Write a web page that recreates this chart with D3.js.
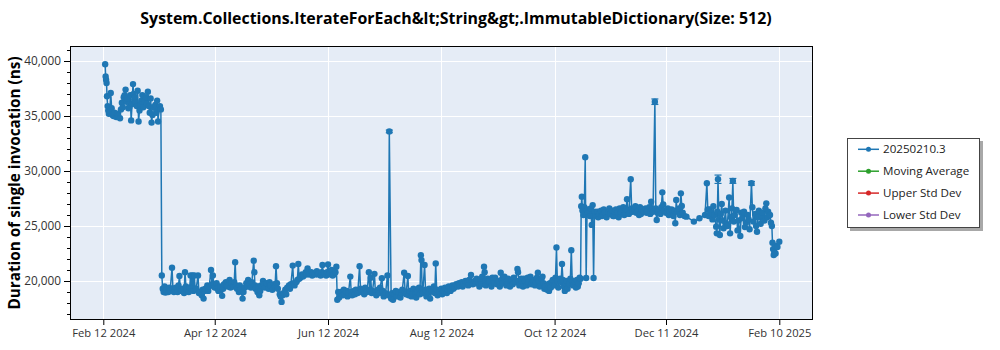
<!DOCTYPE html>
<html>
<head>
<meta charset="utf-8">
<script src="https://cdn.jsdelivr.net/npm/d3@7"></script>
<style>
  body { margin: 0; background: #fff; }
  svg { display: block; }
  text { font-family: "Open Sans", "Noto Sans", sans-serif; }
</style>
</head>
<body>
<svg id="chart" width="1000" height="350"></svg>
<script>
// ---- labels ----
const chartTitle = "System.Collections.IterateForEach&lt;String&gt;.ImmutableDictionary(Size: 512)";
const yAxisTitle = "Duration of single invocation (ns)";
const yTickValues = [20000, 25000, 30000, 35000, 40000];
const xTickDates = ["2024-02-12", "2024-04-12", "2024-06-12", "2024-08-12", "2024-10-12", "2024-12-11", "2025-02-10"];
const xTickLabels = ["Feb 12 2024", "Apr 12 2024", "Jun 12 2024", "Aug 12 2024", "Oct 12 2024", "Dec 11 2024", "Feb 10 2025"];
const legendNames = ["20250210.3", "Moving Average", "Upper Std Dev", "Lower Std Dev"];
const legendColors = ["#1f77b4", "#2ca02c", "#d62728", "#9467bd"];

// ---- durations (ns), one slot per day of the month; a list means several runs that day ----
const feb2024 = [null, null, null, null, null, null, null, null, null, null, null, null,
  [39700, 38600, 38300, 38000], [36800, 35900, 35500], [35200, 35400], [37100, 35700], [35100, 35000],
  [35300], [34900, 35200], [35000], [34800, 35600], [36200, 35800], [36700, 36900], [37400, 36300],
  [36600, 35700], [35800, 36900], [34600, 36100], [37900, 37000, 36500], [36700, 36200]];
const mar2024 = [[35900, 37300], [34500, 35500], [36000, 36400], [36900, 35800], [36300], [36700, 36100],
  [37200, 35900], [35300, 36600], [34400, 35100], [35800], [36000, 35300], [36400, 34500], [35700, 35900],
  [35600, 20500], [19300, 19000], [19500, 18950], [19200], [19000, 19400], [19100], [21200, 19300],
  [19000, 19200], [19400], [19000, 19600], [20450, 19200], [19100], [19300, 18900], [20800, 19500],
  [19200], [19000, 19400], [20500, 19300], [20500, 19100]];
const apr2024 = [[20500, 19200], [19300], [20500, 18900], [19000], [18700, 19200], [18400, 19100], [19300],
  [19600, 19100], [19500], [21000, 19700], [20500, 19600], [19400], [19800, 19300], [19100], [19500],
  [18650, 19300], [19700], [19900, 19600], [19500], [20100, 19400], [19800], [19500, 19900], [21700, 19600],
  [19300], [19000, 19600], [19200], [18400, 19000], [19400], [19800, 19500], [20100]];
const may2024 = [[19700, 19400], [19900], [21850, 20800, 19600], [19300], [19000, 19500], [18700, 19100],
  [19600], [20000, 19700], [19400], [19800], [19300, 19900], [19600], [19200], [19700, 19500],
  [21350, 19800], [19300], [18800, 18600], [18100, 18700], [18900], [19200, 18800], [19400], [19600, 19300],
  [19700], [21400, 19800], [19600], [19900, 20100], [21550, 20200], [20300], [20600, 20400], [20500],
  [20800, 20600]];
const jun2024 = [[21150, 20700], [20600], [20800, 20500], [20700], [20600], [20900, 20600], [20700],
  [20500, 20800], [21450, 20600], [20700], [20500, 20800], [21500, 20600], [20700], [21000, 20500], [20600],
  [20800, 21300], [18300, 19000], [18500, 18900], [19000], [18700, 19200], [18800], [19100, 18600], [18900],
  [20400, 19000], [18700], [19100, 18800], [19200], [18900], [21350, 19300], [19000]];
const jul2024 = [[19200, 18800], [19400], [19000], [20800, 19200], [20300, 18900], [19100], [20650, 19000],
  [18700], [19200, 18900], [19400], [20250, 19100], [18600], [18900], [20500, 18700], [33600],
  [18400, 18900], [18300], [18800, 19100], [18600], [19000], [18500, 18900], [19200], [20750, 19000],
  [18800], [20450, 18700], [19100], [18600, 18900], [19300], [18900, 18500], [19000], [19400, 18800]];
const aug2024 = [[22350, 21900, 19100], [18900], [21450, 19200], [18600], [19000, 19300], [18400], [19100],
  [19500, 18900], [21600, 19200], [18700], [19000], [19300, 18800], [19100], [19400], [18900, 19200],
  [19500], [19100], [19600, 19300], [19400], [19700], [19500, 19800], [19600], [19900, 19500], [19700],
  [20000], [19800, 19600], [20100], [20550, 19900], [19700], [20000, 19800], [20200]];
const sep2024 = [[19900, 19500], [20100, 19700], [20400], [21300, 20800, 20000], [19600], [20200, 19900], [20000],
  [19500, 20300], [20100, 19800], [20300], [19700], [20000, 19500], [20750, 20100], [19800], [20400],
  [19600, 19900], [20200], [19500, 20000], [20100, 19700], [20300], [19900], [21100, 20800, 20000], [19600],
  [20200, 19900], [19500, 20200], [20000], [19600, 20300], [19900], [20400, 19700], [19800, 20000]];
const oct2024 = [[20100, 19600], [19900, 20300], [20750, 20000], [19500], [20200, 20400], [19800, 19300], [19500],
  [19200, 19700], [19100, 19800], [19400, 19900], [20100], [19600, 20300], [23050, 20000], [19400], [20200, 19900],
  [21550, 20100], [19500, 19100], [19800, 20000], [19300], [19700, 20200], [22800, 20000], [19600], [19900, 19400],
  [20100, 19500], [19800, 20300], [20200, 26800, 27660], [26400, 26000], [26700, 31250], [20270, 26500],
  [26200], [25900, 26600]];
const nov2024 = [[25100, 26900], [20270, 26300], [25900], [26300, 25800], [26100], [26400, 25900], [26000, 26500],
  [26200], [25800], [26300, 26600], [26100], [26400, 25900], [25900, 26300], [26500], [26200, 25800], [26600, 26100],
  [26300], [26700, 26000], [26200, 26500], [27430, 26400], [26100], [29250, 26600], [26300], [26500, 26800],
  [26200], [26400, 26000], [26700, 26100], [26500], [26300], [26600, 26200]];
const dec2024 = [[26400], [26700, 26100], [27200, 26500], [26300], [36300, 26600], [25550, 26200], [26400],
  [26100, 26700], [28060, 26960], [26400], [26200], [26600, 26000], [26300], [26500], [25900, 26400],
  [25250, 27360], [26300], [26600, 26000], [27970, 26820], [26200], [25900], [25850], null, null, null,
  [25400], null, null, [25700], null, null];
const jan2025 = [[26000], [28880, 26500], [25900, 26500], [26200], [25600, 26800], [26000],
  [24940, 24330, 26300], [29250, 25600], [24180, 26100], [27000, 25500], [24800], [26400, 25200], [25000],
  [27600, 24330], [25800, 26600], [29100, 25400], [26000], [26450, 24600], [25500], [24090, 26200], [25700],
  [26300, 24900], [25300], [26000, 25600], [24700], [28880, 26700], [25400], [26100, 25000], [24480, 25800],
  [26400], [25200, 25900]];
const feb2025 = [[26200], [25500, 26600], [27060, 25800], [26300], [26000, 25300], [25000, 23480, 22900],
  [22360, 22600, 23200], [22500], [23100], [23570]];

// runs whose spread is wide enough to show as an error bar: [date, half-width in ns]
const errorBarDays = [["2024-07-15", 120], ["2024-12-05", 250], ["2025-01-08", 380], ["2025-01-16", 220], ["2025-01-26", 170]];

const months = [
  [2024, 1, feb2024], [2024, 2, mar2024], [2024, 3, apr2024], [2024, 4, may2024], [2024, 5, jun2024],
  [2024, 6, jul2024], [2024, 7, aug2024], [2024, 8, sep2024], [2024, 9, oct2024], [2024, 10, nov2024],
  [2024, 11, dec2024], [2025, 0, jan2025], [2025, 1, feb2025]
];

// flatten to time-ordered runs
const errMap = new Map(errorBarDays.map(d => [d[0], d[1]]));
const fmtKey = d3.timeFormat("%Y-%m-%d");
const runs = [];
months.forEach(([yr, mo, arr]) => {
  arr.forEach((v, i) => {
    if (v == null) return;
    const list = Array.isArray(v) ? v : [v];
    const day = new Date(yr, mo, i + 1);
    const err = errMap.get(fmtKey(day));
    const maxV = d3.max(list);
    list.forEach((val, k) => {
      runs.push({
        t: new Date(yr, mo, i + 1, Math.round(k * 24 / list.length)),
        v: val,
        e: (err && val === maxV) ? err : 0
      });
    });
  });
});

// ---- layout ----
const svg = d3.select("#chart");
const plot = { left: 70, top: 46, right: 813, bottom: 320 };

const xTicks = xTickDates.map(s => d3.timeParse("%Y-%m-%d")(s));
const x = d3.scaleTime()
  .domain([xTicks[0], xTicks[xTicks.length - 1]])
  .range([103.3, 779.3]);
const y = d3.scaleLinear().domain([20000, 40000]).range([281, 61]);

// background
svg.append("rect")
  .attr("x", plot.left).attr("y", plot.top)
  .attr("width", plot.right - plot.left).attr("height", plot.bottom - plot.top)
  .attr("fill", "#e5ecf6");

// gridlines
const grid = svg.append("g").attr("stroke", "#ffffff").attr("stroke-width", 1);
yTickValues.forEach(v => grid.append("line")
  .attr("x1", plot.left).attr("x2", plot.right)
  .attr("y1", Math.round(y(v)) + 0.5).attr("y2", Math.round(y(v)) + 0.5));
xTicks.forEach(d => grid.append("line")
  .attr("y1", plot.top).attr("y2", plot.bottom)
  .attr("x1", Math.round(x(d)) + 0.5).attr("x2", Math.round(x(d)) + 0.5));

// clip
svg.append("clipPath").attr("id", "plotClip").append("rect")
  .attr("x", plot.left).attr("y", plot.top)
  .attr("width", plot.right - plot.left).attr("height", plot.bottom - plot.top);

const series = svg.append("g").attr("clip-path", "url(#plotClip)");
const color = legendColors[0];

series.append("path")
  .datum(runs)
  .attr("fill", "none")
  .attr("stroke", color)
  .attr("stroke-width", 1.5)
  .attr("stroke-linejoin", "round")
  .attr("d", d3.line().x(d => x(d.t)).y(d => y(d.v)));

// error bars
const eb = series.append("g").attr("stroke", color).attr("stroke-width", 1.2);
runs.filter(d => d.e > 0).forEach(d => {
  const cx = x(d.t);
  eb.append("line").attr("x1", cx).attr("x2", cx).attr("y1", y(d.v - d.e)).attr("y2", y(d.v + d.e));
  eb.append("line").attr("x1", cx - 3.5).attr("x2", cx + 3.5).attr("y1", y(d.v - d.e)).attr("y2", y(d.v - d.e));
  eb.append("line").attr("x1", cx - 3.5).attr("x2", cx + 3.5).attr("y1", y(d.v + d.e)).attr("y2", y(d.v + d.e));
});

series.append("g").selectAll("circle")
  .data(runs)
  .join("circle")
  .attr("cx", d => x(d.t))
  .attr("cy", d => y(d.v))
  .attr("r", 3.2)
  .attr("fill", color);

// frame
svg.append("rect")
  .attr("x", plot.left + 0.5).attr("y", plot.top + 0.5)
  .attr("width", plot.right - plot.left - 1).attr("height", plot.bottom - plot.top - 1)
  .attr("fill", "none").attr("stroke", "#000").attr("stroke-width", 1);

// y axis: major + minor ticks
const yAxisG = svg.append("g").attr("transform", `translate(${plot.left},0)`);
yAxisG.call(d3.axisLeft(y).tickValues(yTickValues).tickSize(6).tickPadding(3).tickFormat(d3.format(",")));
yAxisG.select(".domain").remove();
yAxisG.selectAll(".tick text").attr("font-size", 11.8).attr("fill", "#333");
const minorY = d3.range(17000, 41001, 1000).filter(v => !yTickValues.includes(v));
yAxisG.append("g").call(d3.axisLeft(y).tickValues(minorY).tickSize(3).tickFormat(""))
  .select(".domain").remove();

// x axis
const xAxisG = svg.append("g").attr("transform", `translate(0,${plot.bottom})`);
xAxisG.call(d3.axisBottom(x).tickValues(xTicks).tickSize(5).tickPadding(4)
  .tickFormat((d, i) => xTickLabels[i]));
xAxisG.select(".domain").remove();
xAxisG.selectAll(".tick text").attr("font-size", 11.2).attr("fill", "#333");

// title
svg.append("text")
  .attr("x", 456).attr("y", 24)
  .attr("text-anchor", "middle")
  .attr("font-size", 15.9).attr("font-weight", "bold")
  .text(chartTitle);

// y axis title
svg.append("text")
  .attr("transform", `translate(20,183) rotate(-90)`)
  .attr("text-anchor", "middle")
  .attr("font-size", 15.3).attr("font-weight", "bold")
  .text(yAxisTitle);

// legend
const lg = svg.append("g").attr("transform", "translate(847,138)");
lg.append("rect").attr("x", 3).attr("y", 3).attr("width", 133).attr("height", 90).attr("fill", "#a8a8a8");
lg.append("rect").attr("x", 0.5).attr("y", 0.5).attr("width", 132).attr("height", 89)
  .attr("fill", "#fff").attr("stroke", "#444").attr("stroke-width", 1);
legendNames.forEach((name, i) => {
  const ry = 11.3 + i * 21.9;
  lg.append("line").attr("x1", 11).attr("x2", 32).attr("y1", ry).attr("y2", ry)
    .attr("stroke", legendColors[i]).attr("stroke-width", 1.5);
  lg.append("circle").attr("cx", 21.5).attr("cy", ry).attr("r", 2.5).attr("fill", legendColors[i]);
  lg.append("text").attr("x", 36).attr("y", ry + 4).attr("font-size", 11.6).attr("fill", "#222").text(name);
});
</script>
</body>
</html>
